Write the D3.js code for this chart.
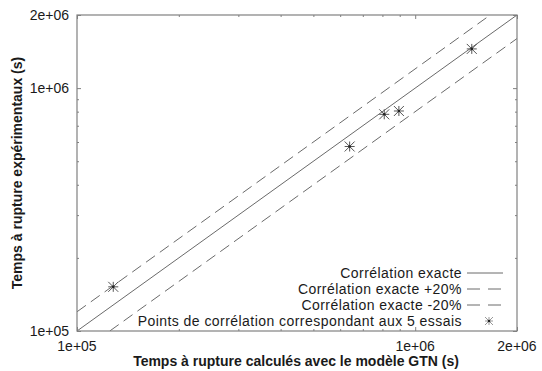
<!DOCTYPE html>
<html>
<head>
<meta charset="utf-8">
<script src="https://cdn.jsdelivr.net/npm/d3@7"></script>
<style>
html,body{margin:0;padding:0;background:#fff;}
svg{display:block;font-family:"Liberation Sans",Arial,sans-serif;}
</style>
</head>
<body>
<svg id="chart" width="542" height="371"></svg>
<script>
// ---- data ----
const xDomain = [1e5, 2e6];
const yDomain = [1e5, 2e6];
const xTickLabels = [1e5, 1e6, 2e6];
const yTickLabels = [1e5, 1e6, 2e6];
const minorTicks = [2e5, 3e5, 4e5, 5e5, 6e5, 7e5, 8e5, 9e5];
const tickText = {100000: "1e+05", 1000000: "1e+06", 2000000: "2e+06"};
// correlation lines (endpoints within the frame)
const exactLine = [[1e5, 1e5], [2e6, 2e6]];
const plus20Line = [[1e5, 1.2e5], [1.6667e6, 2e6]];
const minus20Line = [[1.25e5, 1e5], [2e6, 1.6e6]];
// experimental points: [calculated, experimental]
const pointsCalc = [1.28e5, 6.4e5, 8.1e5, 8.95e5, 1.47e6];
const pointsExp  = [1.52e5, 5.75e5, 7.8e5, 8.05e5, 1.45e6];
const legendLabels = ["Corrélation exacte", "Corrélation exacte +20%", "Corrélation exacte -20%", "Points de corrélation correspondant aux 5 essais"];

const xTitle = "Temps à rupture calculés avec le modèle GTN (s)";
const yTitle = "Temps à rupture expérimentaux (s)";

// ---- layout ----
const L = 77, R = 517, T = 15, B = 331;
const svg = d3.select("#chart");
const x = d3.scaleLog().domain(xDomain).range([L, R]);
const y = d3.scaleLog().domain(yDomain).range([B, T]);

const frameColor = "#808080";
const lineColor = "#6a6a6a";
const textColor = "#1a1a1a";
const dash = "11,6";

// clip
svg.append("defs").append("clipPath").attr("id", "clip")
  .append("rect").attr("x", L).attr("y", T).attr("width", R - L).attr("height", B - T);

// ticks (inward, mirrored) using axes
function tickAxis(axisGen, transform, size) {
  const g = svg.append("g").attr("transform", transform).call(axisGen.tickSize(size).tickFormat(""));
  g.select(".domain").remove();
  g.selectAll("line").attr("stroke", frameColor).attr("stroke-width", 1);
  return g;
}
// major
tickAxis(d3.axisBottom(x).tickValues(xTickLabels), `translate(0,${B})`, -4);
tickAxis(d3.axisTop(x).tickValues(xTickLabels), `translate(0,${T})`, -4);
tickAxis(d3.axisLeft(y).tickValues(yTickLabels), `translate(${L},0)`, -4);
tickAxis(d3.axisRight(y).tickValues(yTickLabels), `translate(${R},0)`, -4);
// minor
tickAxis(d3.axisBottom(x).tickValues(minorTicks), `translate(0,${B})`, -2);
tickAxis(d3.axisTop(x).tickValues(minorTicks), `translate(0,${T})`, -2);
tickAxis(d3.axisLeft(y).tickValues(minorTicks), `translate(${L},0)`, -2);
tickAxis(d3.axisRight(y).tickValues(minorTicks), `translate(${R},0)`, -2);

// tick labels
svg.append("g").selectAll("text").data(xTickLabels).join("text")
  .attr("x", d => x(d)).attr("y", 350.5)
  .attr("text-anchor", "middle").attr("font-size", 14).attr("fill", textColor)
  .text(d => tickText[d]);
svg.append("g").selectAll("text").data(yTickLabels).join("text")
  .attr("x", 69).attr("y", d => y(d)).attr("dy", "0.35em")
  .attr("text-anchor", "end").attr("font-size", 14).attr("fill", textColor)
  .text(d => tickText[d]);

// lines
const lineGen = d3.line().x(d => x(d[0])).y(d => y(d[1]));
const plot = svg.append("g").attr("clip-path", "url(#clip)");
plot.append("path").attr("d", lineGen(exactLine)).attr("fill", "none")
  .attr("stroke", lineColor).attr("stroke-width", 1);
plot.append("path").attr("d", lineGen(plus20Line)).attr("fill", "none")
  .attr("stroke", lineColor).attr("stroke-width", 1).attr("stroke-dasharray", dash);
plot.append("path").attr("d", lineGen(minus20Line)).attr("fill", "none")
  .attr("stroke", lineColor).attr("stroke-width", 1).attr("stroke-dasharray", dash);

// star symbol
function star(g, cx, cy, r, col) {
  const s = g.append("g").attr("transform", `translate(${cx},${cy})`)
    .attr("stroke", col).attr("stroke-width", 1);
  s.append("line").attr("x1", -r).attr("x2", r).attr("y1", 0).attr("y2", 0);
  s.append("line").attr("x1", 0).attr("x2", 0).attr("y1", -r).attr("y2", r);
  s.append("line").attr("x1", -r).attr("x2", r).attr("y1", -r).attr("y2", r);
  s.append("line").attr("x1", -r).attr("x2", r).attr("y1", r).attr("y2", -r);
  s.append("circle").attr("r", 1.3).attr("fill", "#222").attr("stroke", "none");
}
const pts = pointsCalc.map((c, i) => [c, pointsExp[i]]);
pts.forEach(p => star(svg, x(p[0]), y(p[1]), 5, "#555"));

// frame
svg.append("rect").attr("x", L).attr("y", T).attr("width", R - L).attr("height", B - T)
  .attr("fill", "none").attr("stroke", frameColor).attr("stroke-width", 1.2);

// legend
const legY = [273, 289, 305, 321];
const legTextX = 462, sx1 = 467, sx2 = 503;
const leg = svg.append("g");
legendLabels.forEach((lab, i) => {
  leg.append("text").attr("x", legTextX).attr("y", legY[i]).attr("dy", "0.35em")
    .attr("text-anchor", "end").attr("font-size", 14).attr("letter-spacing", "0.45px")
    .attr("fill", textColor).text(lab);
});
leg.append("line").attr("x1", sx1).attr("x2", sx2).attr("y1", legY[0]).attr("y2", legY[0])
  .attr("stroke", lineColor).attr("stroke-width", 1);
leg.append("line").attr("x1", sx1).attr("x2", sx2).attr("y1", legY[1]).attr("y2", legY[1])
  .attr("stroke", lineColor).attr("stroke-width", 1).attr("stroke-dasharray", "13,8");
leg.append("line").attr("x1", sx1).attr("x2", sx2).attr("y1", legY[2]).attr("y2", legY[2])
  .attr("stroke", lineColor).attr("stroke-width", 1).attr("stroke-dasharray", "13,8");
star(leg, 489, legY[3], 4, "#999");

// axis titles
svg.append("text").attr("x", (L + R) / 2 - 1).attr("y", 365.5)
  .attr("text-anchor", "middle").attr("font-size", 14).attr("font-weight", "bold")
  .attr("fill", textColor).text(xTitle);
svg.append("text").attr("transform", `translate(17,${(T + B) / 2}) rotate(-90)`)
  .attr("dy", "0.35em").attr("text-anchor", "middle").attr("font-size", 14)
  .attr("font-weight", "bold").attr("fill", textColor).text(yTitle);
</script>
</body>
</html>
